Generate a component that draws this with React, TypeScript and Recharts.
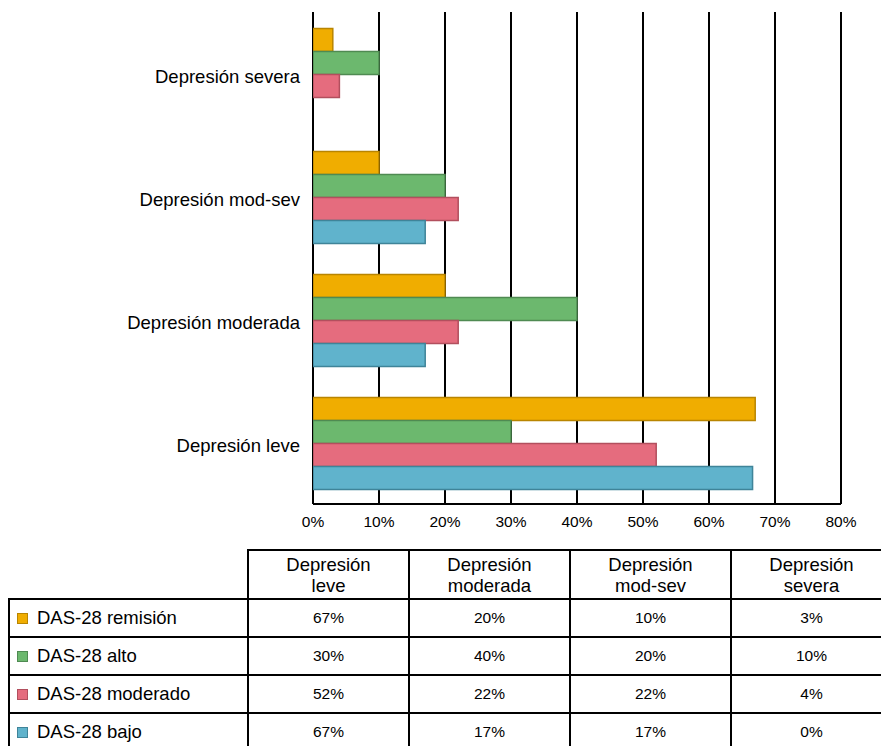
import React from 'react';
import { BarChart, Bar, XAxis, YAxis, CartesianGrid } from 'recharts';

const categories = ['Depresión leve', 'Depresión moderada', 'Depresión mod-sev', 'Depresión severa'];
const headerLines = [
  ['Depresión', 'leve'],
  ['Depresión', 'moderada'],
  ['Depresión', 'mod-sev'],
  ['Depresión', 'severa'],
];
const seriesNames = ['DAS-28 remisión', 'DAS-28 alto', 'DAS-28 moderado', 'DAS-28 bajo'];
const seriesKeys = ['remision', 'alto', 'moderado', 'bajo'];
const remision = [67, 20, 10, 3];
const alto = [30, 40, 20, 10];
const moderado = [52, 22, 22, 4];
const bajo = [66.6, 17, 17, 0];
const xTicks = [0, 10, 20, 30, 40, 50, 60, 70, 80];

const fills = ['#F0AD00', '#6CB86E', '#E56C7E', '#60B3CC'];
const strokes = ['#B98500', '#4F8A52', '#B24F5E', '#3F8499'];

const seriesValues = [remision, alto, moderado, bajo];

const chartData = categories
  .map((name, i) => ({
    name,
    remision: remision[i],
    alto: alto[i],
    moderado: moderado[i],
    bajo: bajo[i],
  }))
  .reverse();

const FONT = '"Liberation Sans", Arial, Helvetica, sans-serif';
const BIG = 18.5;
const SMALL = 15.5;

const colX = [9, 248, 409, 570, 731, 892];
const rowY = [550, 599, 637, 675, 713, 751];

function YTick(props: any) {
  const { x, y, payload } = props;
  return (
    <text x={x} y={y + 3} textAnchor="end" dominantBaseline="central" fill="#000" fontSize={BIG} fontFamily={FONT}>
      {payload.value}
    </text>
  );
}

function Table() {
  const lines: React.ReactNode[] = [];
  colX.forEach((x, i) => {
    const top = i === 0 ? rowY[1] : rowY[0];
    lines.push(
      <div key={'v' + i} style={{ position: 'absolute', left: x - 1, top: top - 1, width: 2, height: 760 - top, background: '#000' }} />
    );
  });
  rowY.forEach((y, i) => {
    const left = i === 0 ? colX[1] : colX[0];
    lines.push(
      <div key={'h' + i} style={{ position: 'absolute', left: left - 1, top: y - 1, width: 900 - left, height: 2, background: '#000' }} />
    );
  });
  const cells: React.ReactNode[] = [];
  headerLines.forEach((hl, c) => {
    cells.push(
      <div
        key={'hd' + c}
        style={{
          position: 'absolute',
          left: colX[c + 1],
          top: rowY[0],
          width: colX[c + 2] - colX[c + 1],
          height: rowY[1] - rowY[0],
          display: 'flex',
          flexDirection: 'column',
          alignItems: 'center',
          justifyContent: 'center',
          fontSize: BIG,
          lineHeight: '21px',
          color: '#000',
        }}
      >
        {hl.map((t, k) => (
          <div key={k}>{t}</div>
        ))}
      </div>
    );
  });
  seriesNames.forEach((s, r) => {
    cells.push(
      <div
        key={'rl' + r}
        style={{
          position: 'absolute',
          left: colX[0] + 8,
          top: rowY[r + 1],
          height: rowY[r + 2] - rowY[r + 1],
          display: 'flex',
          alignItems: 'center',
          fontSize: BIG,
          color: '#000',
          whiteSpace: 'nowrap',
        }}
      >
        <span
          style={{
            display: 'inline-block',
            width: 9,
            height: 9,
            background: fills[r],
            border: `1px solid ${strokes[r]}`,
            marginRight: 9,
          }}
        />
        {s}
      </div>
    );
    seriesValues[r].forEach((v, c) => {
      cells.push(
        <div
          key={'c' + r + '_' + c}
          style={{
            position: 'absolute',
            left: colX[c + 1],
            top: rowY[r + 1],
            width: colX[c + 2] - colX[c + 1],
            height: rowY[r + 2] - rowY[r + 1],
            display: 'flex',
            alignItems: 'center',
            justifyContent: 'center',
            fontSize: SMALL,
            color: '#000',
          }}
        >
          {Math.round(v)}%
        </div>
      );
    });
  });
  return (
    <>
      {cells}
      {lines}
    </>
  );
}

export default function App() {
  return (
    <div
      style={{
        position: 'absolute',
        left: 0,
        top: 0,
        width: 881,
        height: 746,
        overflow: 'hidden',
        background: '#fff',
        fontFamily: FONT,
      }}
    >
      <div style={{ position: 'absolute', left: 0, top: 0 }}>
        <BarChart
          width={881}
          height={540}
          data={chartData}
          layout="vertical"
          margin={{ top: 12, right: 40, bottom: 6, left: 0 }}
          barCategoryGap="13.4%"
          barGap={0}
        >
          <CartesianGrid horizontal={false} stroke="#000" strokeWidth={2} />
          <XAxis
            type="number"
            domain={[0, 80]}
            ticks={xTicks}
            tickFormatter={(v: number) => `${v}%`}
            axisLine={{ stroke: '#000', strokeWidth: 2 }}
            tickLine={false}
            tick={{ fill: '#000', fontSize: SMALL }}
            tickMargin={6}
            height={30}
            allowDataOverflow
          />
          <YAxis
            type="category"
            dataKey="name"
            width={313}
            axisLine={false}
            tickLine={false}
            tick={<YTick />}
            tickMargin={7}
          />
          {seriesKeys.map((k, i) => (
            <Bar
              key={k}
              dataKey={k}
              name={seriesNames[i]}
              fill={fills[i]}
              stroke={strokes[i]}
              strokeWidth={1.5}
              isAnimationActive={false}
            />
          ))}
        </BarChart>
      </div>
      <Table />
    </div>
  );
}
